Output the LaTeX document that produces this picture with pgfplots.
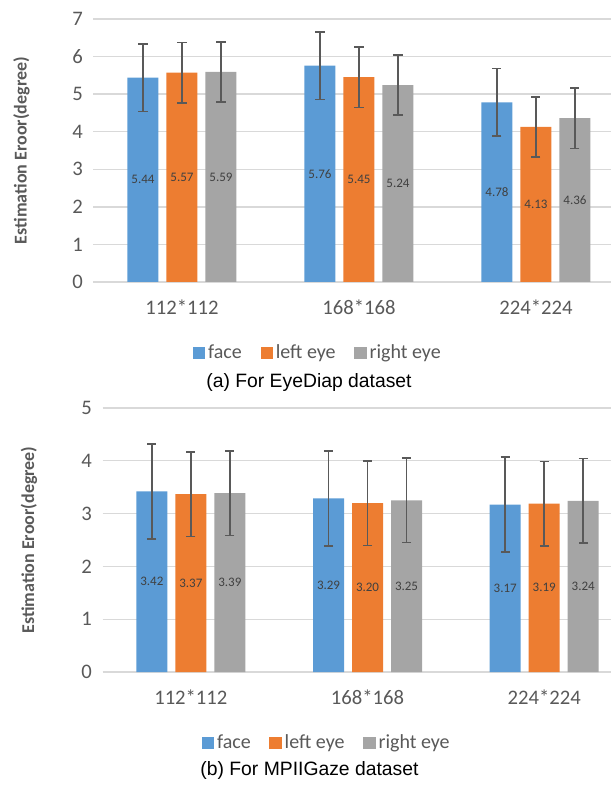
\documentclass[border=0pt]{standalone}
\usepackage{fontspec}
\setmainfont{Carlito}
\newfontfamily\arialfont{Liberation Sans}
\usepackage{pgfplots}
\pgfplotsset{compat=1.18}
\definecolor{cface}{HTML}{5B9BD5}
\definecolor{cleft}{HTML}{ED7D31}
\definecolor{cright}{HTML}{A5A5A5}
\definecolor{txt}{HTML}{595959}
\definecolor{gridc}{HTML}{D9D9D9}
\definecolor{errc}{HTML}{595959}
\definecolor{lblc}{HTML}{404040}
\pgfplotsset{
 mystyle/.style={
  scale only axis,
  ybar=6pt, bar width=23.25pt,
  xmin=-0.5, ymin=0,
  xtick={0,1,2}, xticklabels={112*112,168*168,224*224},
  axis line style={draw=none},
  major tick length=0pt,
  ymajorgrids, grid style={gridc, line width=1pt},
  tick label style={font=\fontsize{15.5}{18}\selectfont, text=txt},
  xticklabel style={yshift=-10pt},
  yticklabel style={xshift=-4.5pt},
  /pgf/number format/assume math mode=true,
  ylabel={Estimation Eroor(degree)},
  ylabel style={font=\bfseries\fontsize{13.5}{16}\selectfont, text=txt},
  legend columns=3,
  legend style={draw=none, font=\fontsize{15}{18}\selectfont, text=txt, /tikz/every even column/.append style={column sep=12pt}},
  legend image code/.code={\fill[##1] (0pt,-4.75pt) rectangle (9.5pt,4.75pt);},
  nodes near coords={\pgfmathprintnumber[fixed,fixed zerofill,precision=2]{\pgfplotspointmeta}},
  visualization depends on=y \as \rawy,
  every node near coord/.append style={font=\fontsize{9.75}{11}\selectfont, text=lblc, anchor=center, shift={(axis direction cs:0,-\rawy/2)}},
  error bars/y dir=both, error bars/y explicit,
  error bars/error bar style={errc, line width=1.1pt},
  error bars/error mark options={rotate=90, errc, mark size=3.4pt, line width=1.1pt},
 }
}
\begin{document}
\begin{tikzpicture}
\useasboundingbox (0,0) rectangle (458.25pt,591.75pt);
\begin{axis}[mystyle, at={(70.125pt,380.25pt)}, anchor=south west,
  width=388.125pt, height=197.25pt, xmax=2.424, ymax=7, ytick={0,1,...,7},
  legend style={at={(0.434,-0.27)}, anchor=center},
  ylabel style={at={(axis description cs:-0.139,0.5)}, anchor=center}]
\addplot[fill=cface, draw=none] coordinates {(0,5.44) +- (0,0.9) (1,5.76) +- (0,0.9) (2,4.78) +- (0,0.9)};
\addplot[fill=cleft, draw=none] coordinates {(0,5.57) +- (0,0.8) (1,5.45) +- (0,0.8) (2,4.13) +- (0,0.8)};
\addplot[fill=cright, draw=none] coordinates {(0,5.59) +- (0,0.8) (1,5.24) +- (0,0.8) (2,4.36) +- (0,0.8)};
\legend{face, left eye, right eye}
\end{axis}
\node[font=\arialfont\fontsize{14.5}{17}\selectfont, text=black] at (231.75pt,304.5pt) {(a) For EyeDiap dataset};
\begin{axis}[mystyle, at={(76.875pt,87.75pt)}, anchor=south west,
  width=381.375pt, height=198pt, xmax=2.378, ymax=5, ytick={0,1,...,5},
  legend style={at={(0.4415,-0.269)}, anchor=center},
  ylabel style={at={(axis description cs:-0.1446,0.5)}, anchor=center}]
\addplot[fill=cface, draw=none] coordinates {(0,3.42) +- (0,0.9) (1,3.29) +- (0,0.9) (2,3.17) +- (0,0.9)};
\addplot[fill=cleft, draw=none] coordinates {(0,3.37) +- (0,0.8) (1,3.20) +- (0,0.8) (2,3.19) +- (0,0.8)};
\addplot[fill=cright, draw=none] coordinates {(0,3.39) +- (0,0.8) (1,3.25) +- (0,0.8) (2,3.24) +- (0,0.8)};
\legend{face, left eye, right eye}
\end{axis}
\node[font=\arialfont\fontsize{14.5}{17}\selectfont, text=black] at (232.1pt,14.25pt) {(b) For MPIIGaze dataset};
\end{tikzpicture}
\end{document}
